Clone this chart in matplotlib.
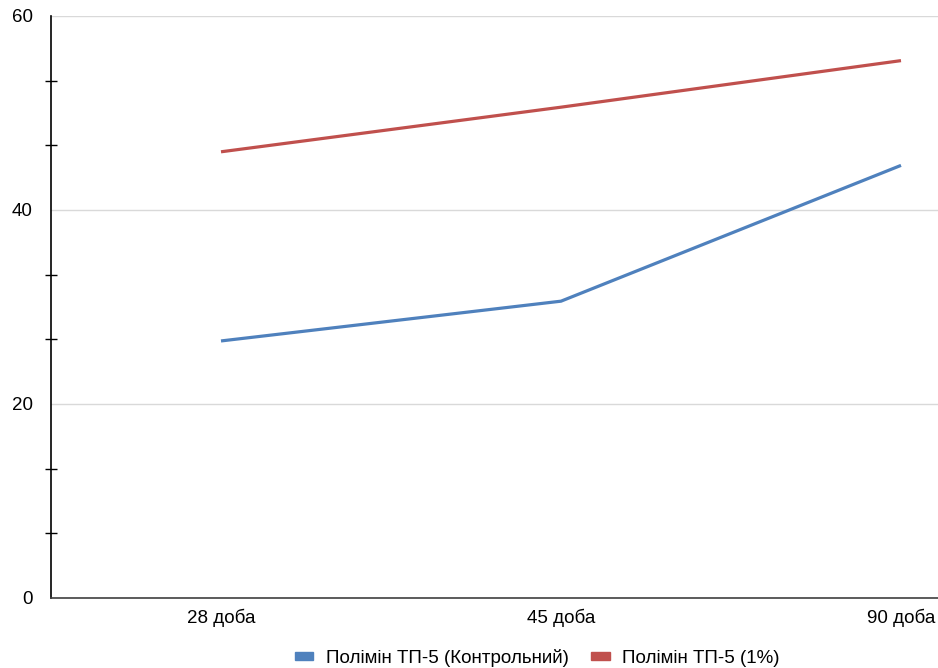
import numpy as np
import matplotlib
matplotlib.use('Agg')
import matplotlib.pyplot as plt
from matplotlib.ticker import MultipleLocator

plt.rcParams['font.family'] = ['Liberation Sans', 'DejaVu Sans']

#%% data
days = ['28 доба', '45 доба', '90 доба']
control = [26.5, 30.6, 44.6]
polymin_1 = [46.0, 50.6, 55.4]
series_names = ['Полімін ТП-5 (Контрольний)', 'Полімін ТП-5 (1%)']

#%% plot
fig = plt.figure(figsize=(9.38, 6.68), dpi=100)
ax = fig.add_axes([51/938, 1-598/668, 1-51/938, (598-16)/668])

x = np.arange(len(days))
ax.plot(x, control, color='#4F81BD', lw=2.3, label=series_names[0], solid_capstyle='butt')
ax.plot(x, polymin_1, color='#C0504D', lw=2.3, label=series_names[1], solid_capstyle='butt')

ax.set_xlim(-0.5, (938-221)/340)
ax.set_ylim(0, 60)
ax.set_xticks(x)
ax.set_xticklabels(days)
ax.set_yticks([0, 20, 40, 60])
ax.yaxis.set_minor_locator(MultipleLocator(20/3))
ax.tick_params(axis='y', which='major', length=0, pad=13, labelsize=13.5)
ax.tick_params(axis='y', which='minor', direction='inout', length=9, width=1, color='black')
ax.tick_params(axis='x', length=0, pad=8, labelsize=13.5)

ax.grid(axis='y', color='#d9d9d9', lw=1)
ax.set_axisbelow(True)
for s in ['top', 'right']:
    ax.spines[s].set_visible(False)
ax.spines['left'].set_linewidth(1.2)
ax.spines['bottom'].set_linewidth(1.2)
ax.spines['bottom'].set_color('#404040')

handles = [plt.Rectangle((0, 0), 1, 1, color=c) for c in ['#4F81BD', '#C0504D']]
fig.legend(handles, series_names, loc='center', bbox_to_anchor=(537/938, 1-658/668),
           ncol=2, frameon=False, fontsize=13.5, handlelength=1.0, handleheight=0.3,
           handletextpad=0.65, columnspacing=1.2)

fig.savefig('out.png', dpi=100)
